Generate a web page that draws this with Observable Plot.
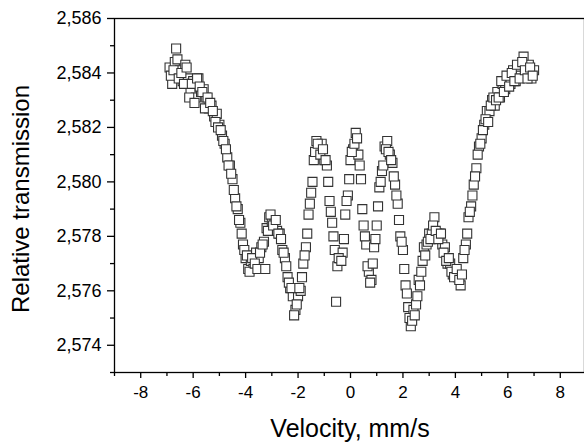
<!DOCTYPE html>
<html><head><meta charset="utf-8">
<script src="https://cdn.jsdelivr.net/npm/d3@7"></script>
<script src="https://cdn.jsdelivr.net/npm/@observablehq/plot@0.6"></script>
<style>html,body{margin:0;padding:0;background:#fff;overflow:hidden} svg{display:block}</style>
</head><body><div id="chart"></div>
<script>
// Pass A
const velocityA = [-6.9,-6.8,-6.7,-6.6,-6.5,-6.4,-6.3,-6.2,-6.1,-6.0,-5.9,-5.8,-5.7,-5.6,-5.5,-5.4,-5.3,-5.2,-5.1,-5.0,
-4.9,-4.8,-4.7,-4.6,-4.5,-4.4,-4.3,-4.2,-4.1,-4.0,-3.9,-3.8,-3.7,-3.6,-3.5,-3.4,-3.3,-3.2,-3.1,-3.0,
-2.9,-2.8,-2.7,-2.6,-2.5,-2.4,-2.3,-2.2,-2.1,-2.0,-1.9,-1.8,-1.7,-1.6,-1.5,-1.4,-1.3,-1.2,-1.1,-1.0,
-0.9,-0.8,-0.7,-0.6,-0.5,-0.4,-0.3,-0.2,-0.1,0.0,0.1,0.2,0.3,0.4,0.5,0.6,0.7,0.8,0.9,1.0,
1.1,1.2,1.3,1.4,1.5,1.6,1.7,1.8,1.9,2.0,2.1,2.2,2.3,2.4,2.5,2.6,2.7,2.8,2.9,3.0,
3.1,3.2,3.3,3.4,3.5,3.6,3.7,3.8,3.9,4.0,4.1,4.2,4.3,4.4,4.5,4.6,4.7,4.8,4.9,5.0,
5.1,5.2,5.3,5.4,5.5,5.6,5.7,5.8,5.9,6.0,6.1,6.2,6.3,6.4,6.5,6.6,6.7,6.8,6.9,7.0];
const transmissionA = [2.5842,2.5836,2.5844,2.5845,2.5841,2.5837,2.5843,2.5838,2.5834,2.5837,2.5831,2.5838,2.5833,2.5834,2.5831,2.5827,2.5828,2.5824,2.5825,2.5821,
2.5817,2.5814,2.5809,2.5806,2.5801,2.5794,2.5790,2.5785,2.5777,2.5772,2.5768,2.5771,2.5768,2.5774,2.5772,2.5776,2.5778,2.5783,2.5787,2.5785,
2.5786,2.5782,2.5781,2.5775,2.5772,2.5765,2.5761,2.5758,2.5753,2.5758,2.5760,2.5770,2.5776,2.5788,2.5796,2.5808,2.5815,2.5812,2.5814,2.5808,
2.5806,2.5793,2.5785,2.5775,2.5769,2.5772,2.5774,2.5788,2.5795,2.5808,2.5812,2.5818,2.5810,2.5801,2.5784,2.5777,2.5767,2.5764,2.5776,2.5784,
2.5798,2.5804,2.5813,2.5815,2.5810,2.5807,2.5799,2.5792,2.5780,2.5775,2.5762,2.5754,2.5747,2.5753,2.5755,2.5764,2.5767,2.5776,2.5777,2.5781,
2.5781,2.5787,2.5781,2.5781,2.5777,2.5776,2.5770,2.5770,2.5766,2.5767,2.5765,2.5762,2.5772,2.5777,2.5787,2.5791,2.5799,2.5805,2.5813,2.5816,
2.5821,2.5826,2.5826,2.5830,2.5828,2.5833,2.5831,2.5836,2.5834,2.5838,2.5836,2.5841,2.5837,2.5842,2.5839,2.5846,2.5840,2.5843,2.5838,2.5841];
// Pass B
const velocityB = [-6.85,-6.75,-6.65,-6.55,-6.45,-6.35,-6.25,-6.15,-6.05,-5.95,-5.85,-5.75,-5.65,-5.55,-5.45,-5.35,-5.25,-5.15,-5.05,-4.95,
-4.85,-4.75,-4.65,-4.55,-4.45,-4.35,-4.25,-4.15,-4.05,-3.95,-3.85,-3.75,-3.65,-3.55,-3.45,-3.35,-3.25,-3.15,-3.05,-2.95,
-2.85,-2.75,-2.65,-2.55,-2.45,-2.35,-2.25,-2.15,-2.05,-1.95,-1.85,-1.75,-1.65,-1.55,-1.45,-1.35,-1.25,-1.15,-1.05,-0.95,
-0.85,-0.75,-0.65,-0.55,-0.45,-0.35,-0.25,-0.15,-0.05,0.05,0.15,0.25,0.35,0.45,0.55,0.65,0.75,0.85,0.95,1.05,
1.15,1.25,1.35,1.45,1.55,1.65,1.75,1.85,1.95,2.05,2.15,2.25,2.35,2.45,2.55,2.65,2.75,2.85,2.95,3.05,
3.15,3.25,3.35,3.45,3.55,3.65,3.75,3.85,3.95,4.05,4.15,4.25,4.35,4.45,4.55,4.65,4.75,4.85,4.95,5.05,
5.15,5.25,5.35,5.45,5.55,5.65,5.75,5.85,5.95,6.05,6.15,6.25,6.35,6.45,6.55,6.65,6.75,6.85,6.95];
const transmissionB = [2.5839,2.5841,2.5849,2.5838,2.5840,2.5836,2.5842,2.5831,2.5836,2.5829,2.5838,2.5835,2.5833,2.5827,2.5831,2.5829,2.5826,2.5822,2.5820,2.5819,
2.5815,2.5812,2.5806,2.5803,2.5797,2.5791,2.5786,2.5781,2.5775,2.5773,2.5767,2.5772,2.5770,2.5768,2.5774,2.5777,2.5768,2.5782,2.5788,2.5784,
2.5786,2.5781,2.5779,2.5774,2.5769,2.5763,2.5761,2.5751,2.5755,2.5761,2.5765,2.5773,2.5781,2.5792,2.5800,2.5811,2.5814,2.5810,2.5812,2.5808,
2.5800,2.5789,2.5780,2.5756,2.5772,2.5771,2.5779,2.5793,2.5801,2.5811,2.5814,2.5816,2.5806,2.5790,2.5780,2.5769,2.5763,2.5770,2.5779,2.5791,
2.5800,2.5806,2.5812,2.5811,2.5808,2.5802,2.5795,2.5786,2.5778,2.5768,2.5759,2.5750,2.5749,2.5751,2.5758,2.5762,2.5771,2.5773,2.5778,2.5779,
2.5784,2.5782,2.5779,2.5781,2.5774,2.5771,2.5772,2.5767,2.5765,2.5768,2.5764,2.5766,2.5775,2.5781,2.5789,2.5795,2.5802,2.5810,2.5814,2.5819,
2.5823,2.5822,2.5828,2.5831,2.5830,2.5831,2.5837,2.5833,2.5839,2.5835,2.5840,2.5837,2.5843,2.5838,2.5844,2.5841,2.5838,2.5842,2.5839];

const xTicks = [-8,-6,-4,-2,0,2,4,6,8];
const xMinorTicks = [-9,-7,-5,-3,-1,1,3,5,7,9];
const yTicks = [2.574,2.576,2.578,2.580,2.582,2.584,2.586];
const yMinorTicks = [2.573,2.575,2.577,2.579,2.581,2.583,2.585];
const xTitle = "Velocity, mm/s";
const yTitle = "Relative transmission";

const data = [
  ...velocityA.map((v, i) => ({v, t: transmissionA[i]})),
  ...velocityB.map((v, i) => ({v, t: transmissionB[i]}))
];
const fmt = d => d.toFixed(3).replace(".", ",");
const font = "'Liberation Sans', Arial, sans-serif";

const plot = Plot.plot({
  width: 584, height: 443,
  marginLeft: 114, marginTop: 18, marginBottom: 71, marginRight: 0,
  x: {domain: [-9, 9], range: [114, 586]},
  y: {domain: [2.573, 2.586], range: [372, 18]},
  style: {fontFamily: font, color: "#000", background: "#fff", overflow: "hidden"},
  marks: [
    Plot.dot(data, {x: "v", y: "t", symbol: "square", r: 5.1, fill: "white", stroke: "#333", strokeWidth: 1.1}),
    Plot.axisX({ticks: xTicks, tickSize: 6, tickPadding: 7, fontSize: 17, tickFormat: d => String(d), label: null, strokeWidth: 1.3}),
    Plot.axisX({ticks: xMinorTicks, tickSize: 4, tickFormat: () => "", label: null, strokeWidth: 1.3}),
    Plot.axisY({ticks: yTicks, tickSize: 7, tickPadding: 6, fontSize: 18, tickFormat: fmt, label: null, strokeWidth: 1.3}),
    Plot.axisY({ticks: yMinorTicks, tickSize: 4, tickFormat: () => "", label: null, strokeWidth: 1.3}),
    Plot.frame({stroke: "#000", strokeWidth: 1.3})
  ]
});
document.getElementById("chart").append(plot);

const svg = d3.select(plot);
svg.append("text")
  .attr("x", 350).attr("y", 437)
  .attr("text-anchor", "middle")
  .attr("font-family", font).attr("font-size", 25).attr("fill", "#000")
  .text(xTitle);
svg.append("text")
  .attr("transform", "translate(28.5,199) rotate(-90)")
  .attr("text-anchor", "middle")
  .attr("font-family", font).attr("font-size", 24).attr("fill", "#000")
  .text(yTitle);
</script>
</body></html>
